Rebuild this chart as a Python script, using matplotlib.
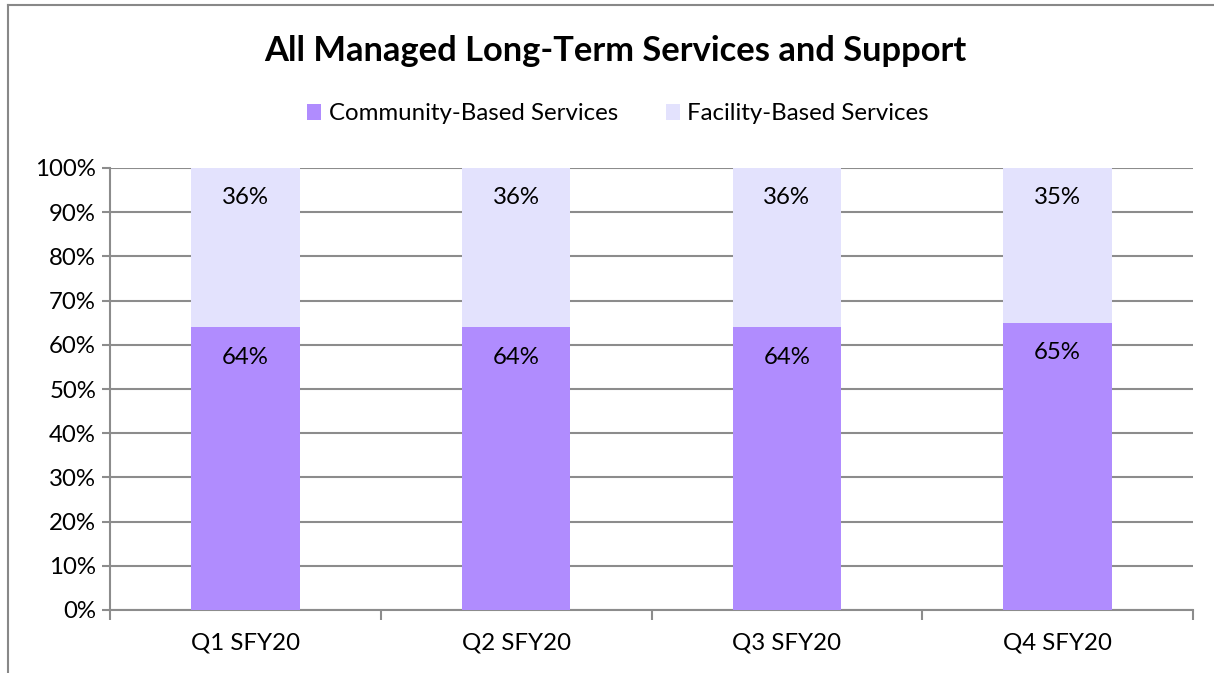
import matplotlib
matplotlib.use("Agg")
import matplotlib.pyplot as plt
from matplotlib.lines import Line2D
from matplotlib.patches import Patch
import numpy as np

plt.rcParams['font.family'] = ['Lato', 'DejaVu Sans']

categories = ["Q1 SFY20", "Q2 SFY20", "Q3 SFY20", "Q4 SFY20"]
community = [64, 64, 64, 65]
facility = [36, 36, 36, 35]
series_names = ["Community-Based Services", "Facility-Based Services"]
title = "All Managed Long-Term Services and Support"

c_comm = "#B08CFE"
c_fac = "#E3E2FD"
grid_c = "#8C8C8C"
FS = 17.3

W, H = 1214, 673
fig = plt.figure(figsize=(W / 100, H / 100), dpi=100)
ax = fig.add_axes([110 / W, (H - 610) / H, 1083 / W, 442 / H])

x = np.arange(len(categories))
comm_frac = np.array(community) / 100
fac_frac = np.array(facility) / 100
ax.bar(x, comm_frac, width=0.4, color=c_comm, zorder=3)
ax.bar(x, fac_frac, width=0.4, bottom=comm_frac, color=c_fac, zorder=3)

for xi, c, f in zip(x, community, facility):
    ax.annotate(f"{c}%", (xi, c / 100), xytext=(0, -30), textcoords="offset pixels",
                ha="center", va="center", fontsize=FS, zorder=4)
    ax.annotate(f"{f}%", (xi, 1.0), xytext=(0, -30), textcoords="offset pixels",
                ha="center", va="center", fontsize=FS, zorder=4)

ax.set_xlim(-0.5, len(categories) - 0.5)
ax.set_ylim(0, 1.0)
yt = np.arange(0, 1.01, 0.1)
ax.set_yticks(yt)
ax.set_yticklabels([f"{int(round(v * 100))}%" for v in yt], fontsize=FS)
ax.yaxis.grid(True, color=grid_c, linewidth=1.5, zorder=0)
ax.set_axisbelow(True)

ax.set_xticks(x)
ax.set_xticklabels(categories, fontsize=FS)
ax.tick_params(axis="x", length=0, pad=16)
ax.set_xticks(np.arange(-0.5, len(categories), 1.0), minor=True)
ax.tick_params(axis="x", which="minor", length=7, width=1.5, color=grid_c)
ax.tick_params(axis="y", length=6, width=1.5, color=grid_c, pad=4)

for s in ["top", "right"]:
    ax.spines[s].set_visible(False)
for s in ["left", "bottom"]:
    ax.spines[s].set_color(grid_c)
    ax.spines[s].set_linewidth(1.5)

fig.text(615 / W, 1 - 51 / H, title, ha="center", va="center",
         fontsize=24.8, fontweight="bold")

handles = [Patch(facecolor=c_comm, edgecolor="none"), Patch(facecolor=c_fac, edgecolor="none")]
fig.legend(handles, series_names, loc="center", bbox_to_anchor=(618 / W, 1 - 114 / H),
           ncol=2, frameon=False, fontsize=FS, handlelength=0.6, handleheight=0.6,
           handletextpad=0.3, columnspacing=2.0)

# outer border (partially visible)
fig.add_artist(Line2D([8 / W, 8 / W], [0, 1 - 5 / H], color="#888888", linewidth=1.5))
fig.add_artist(Line2D([8 / W, 1], [1 - 5 / H, 1 - 5 / H], color="#888888", linewidth=1.5))

fig.savefig("out.png", dpi=100)
